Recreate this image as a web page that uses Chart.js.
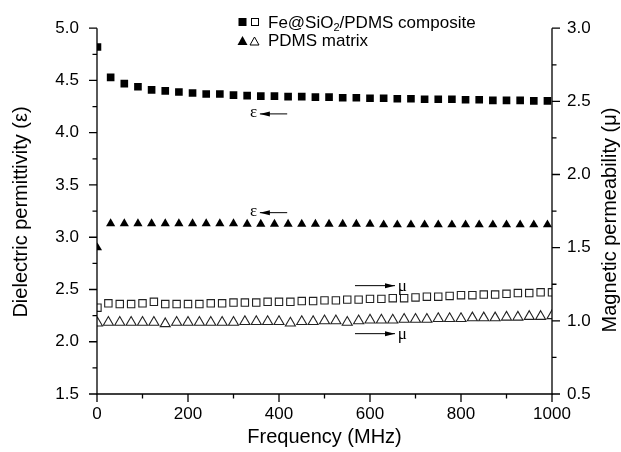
<!DOCTYPE html>
<html><head><meta charset="utf-8">
<script src="https://cdn.jsdelivr.net/npm/chart.js@4"></script>
<style>html,body{margin:0;padding:0;background:#fff}#wrap{width:621px;height:452px;position:relative}</style>
</head><body><div id="wrap"><canvas id="c" width="621" height="452"></canvas></div>
<script>
// ---- data ----
const freqFilled = [1,30,60,90,120,150,180,210,240,270,300,330,360,390,420,450,480,510,540,570,600,630,660,690,720,750,780,810,840,870,900,930,960,990];
const epsComposite = [4.82,4.53,4.47,4.44,4.41,4.40,4.39,4.38,4.37,4.37,4.36,4.355,4.35,4.35,4.345,4.345,4.34,4.34,4.335,4.335,4.33,4.33,4.325,4.325,4.32,4.32,4.32,4.315,4.315,4.31,4.31,4.31,4.305,4.305];
const epsMatrix = [2.90,3.13,3.13,3.13,3.13,3.13,3.13,3.13,3.13,3.13,3.13,3.125,3.125,3.125,3.125,3.125,3.125,3.125,3.125,3.125,3.125,3.12,3.12,3.12,3.12,3.12,3.12,3.12,3.12,3.12,3.12,3.12,3.12,3.12];
const freqHollow = [1,25,50,75,100,125,150,175,200,225,250,275,300,325,350,375,400,425,450,475,500,525,550,575,600,625,650,675,700,725,750,775,800,825,850,875,900,925,950,975,1000];
const muComposite = [1.09,1.12,1.115,1.115,1.12,1.13,1.115,1.115,1.115,1.115,1.12,1.12,1.125,1.125,1.125,1.13,1.13,1.13,1.135,1.135,1.14,1.14,1.145,1.145,1.15,1.15,1.155,1.155,1.16,1.165,1.165,1.17,1.175,1.175,1.18,1.18,1.185,1.19,1.19,1.195,1.195];
const muMatrix = [0.985,0.99,0.99,0.99,0.99,0.99,0.98,0.99,0.99,0.99,0.99,0.99,0.99,0.995,0.995,0.995,0.995,0.985,0.995,0.995,1.0,1.0,0.99,1.0,1.005,1.005,1.005,1.01,1.01,1.01,1.015,1.015,1.015,1.02,1.02,1.02,1.025,1.025,1.03,1.03,1.035];
const seriesNames = ['Fe@SiO2/PDMS composite','PDMS matrix'];
const xTitle = 'Frequency (MHz)';
const yTitle = 'Dielectric permittivity (\u03b5)';
const y2Title = 'Magnetic permeability (\u03bc)';

const FONT = 'Arial, "Liberation Sans", sans-serif';
const pts = (xs, ys) => xs.map((x, i) => ({x, y: ys[i]}));

const decor = {
  id: 'decor',
  afterDatasetsDraw(chart) {
    const {ctx, chartArea: a, scales: {x, y, y2}} = chart;
    ctx.save();
    ctx.strokeStyle = '#000'; ctx.fillStyle = '#000'; ctx.lineWidth = 1.3;
    ctx.beginPath();
    ctx.moveTo(a.left, a.top); ctx.lineTo(a.left, a.bottom); ctx.lineTo(a.right, a.bottom); ctx.lineTo(a.right, a.top);
    ctx.stroke();
    const MAJ = 8, MIN = 4.5;
    ctx.beginPath();
    const xt = x.ticks.map(t => t.value);
    xt.forEach((v, i) => {
      const p = x.getPixelForValue(v); ctx.moveTo(p, a.bottom); ctx.lineTo(p, a.bottom + MAJ);
      if (i < xt.length - 1) { const q = x.getPixelForValue((v + xt[i+1]) / 2); ctx.moveTo(q, a.bottom); ctx.lineTo(q, a.bottom + MIN); }
    });
    const yt = y.ticks.map(t => t.value);
    yt.forEach((v, i) => {
      const p = y.getPixelForValue(v); ctx.moveTo(a.left, p); ctx.lineTo(a.left - MAJ, p);
      if (i < yt.length - 1) { const q = y.getPixelForValue((v + yt[i+1]) / 2); ctx.moveTo(a.left, q); ctx.lineTo(a.left - MIN, q); }
    });
    const y2t = y2.ticks.map(t => t.value);
    y2t.forEach((v, i) => {
      const p = y2.getPixelForValue(v); ctx.moveTo(a.right, p); ctx.lineTo(a.right + MAJ, p);
      if (i < y2t.length - 1) { const q = y2.getPixelForValue((v + y2t[i+1]) / 2); ctx.moveTo(a.right, q); ctx.lineTo(a.right + MIN, q); }
    });
    ctx.stroke();

    // axis titles
    ctx.font = '20px ' + FONT;
    ctx.textAlign = 'center'; ctx.textBaseline = 'middle';
    ctx.fillText(xTitle, (a.left + a.right) / 2, 437);
    ctx.save(); ctx.translate(21, 212); ctx.rotate(-Math.PI / 2); ctx.fillText(yTitle, 0, 0); ctx.restore();
    ctx.save(); ctx.translate(610, 220); ctx.rotate(-Math.PI / 2); ctx.fillText(y2Title, 0, 0); ctx.restore();

    // annotations
    const arrow = (x1, x2, yy) => {
      ctx.lineWidth = 1; ctx.beginPath(); ctx.moveTo(x1, yy); ctx.lineTo(x2, yy); ctx.stroke();
      const d = Math.sign(x2 - x1);
      ctx.beginPath(); ctx.moveTo(x2, yy); ctx.lineTo(x2 - d * 10, yy - 2.5); ctx.lineTo(x2 - d * 10, yy + 2.5); ctx.closePath(); ctx.fill();
    };
    ctx.font = '17px "Liberation Serif", "Times New Roman", serif';
    ctx.textAlign = 'center';
    [[4.192, 4.18], [3.242, 3.235]].forEach(([tv, av]) => {
      ctx.fillText('\u03b5', x.getPixelForValue(344), y.getPixelForValue(tv));
      arrow(x.getPixelForValue(418), x.getPixelForValue(358), y.getPixelForValue(av));
    });
    ctx.textAlign = 'left';
    [1.2405, 0.9124].forEach(v => {
      const yy = y2.getPixelForValue(v);
      arrow(x.getPixelForValue(567), x.getPixelForValue(655), yy);
      ctx.fillText('\u03bc', x.getPixelForValue(661), yy + 1);
    });

    // legend
    ctx.lineWidth = 1;
    ctx.fillRect(238.5, 18, 8, 8);
    ctx.strokeRect(251.5, 18.5, 7, 7);
    ctx.beginPath(); ctx.moveTo(242.5, 36); ctx.lineTo(247.5, 45); ctx.lineTo(237.5, 45); ctx.closePath(); ctx.fill();
    ctx.beginPath(); ctx.moveTo(254.5, 37); ctx.lineTo(259, 45); ctx.lineTo(250, 45); ctx.closePath(); ctx.stroke();
    ctx.font = '17px ' + FONT; ctx.textAlign = 'left'; ctx.textBaseline = 'alphabetic';
    let tx = 268;
    const p1 = 'Fe@SiO';
    ctx.fillText(p1, tx, 28); tx += ctx.measureText(p1).width;
    ctx.font = '11px ' + FONT; ctx.fillText('2', tx, 31); tx += ctx.measureText('2').width;
    ctx.font = '17px ' + FONT; ctx.fillText('/PDMS composite', tx, 28);
    ctx.fillText(seriesNames[1], 268, 46);
    ctx.restore();
  }
};

new Chart(document.getElementById('c'), {
  type: 'scatter',
  data: {
    datasets: [
      {label: seriesNames[0] + ' \u03b5', data: pts(freqFilled, epsComposite), yAxisID: 'y', pointStyle: 'rect', pointRadius: 5.4, backgroundColor: '#000', borderColor: '#000', borderWidth: 0, clip: 0},
      {label: seriesNames[1] + ' \u03b5', data: pts(freqFilled, epsMatrix), yAxisID: 'y', pointStyle: 'triangle', pointRadius: 5.3, backgroundColor: '#000', borderColor: '#000', borderWidth: 0, clip: 0},
      {label: seriesNames[0] + ' \u03bc', data: pts(freqHollow, muComposite), yAxisID: 'y2', pointStyle: 'rect', pointRadius: 5.2, backgroundColor: '#fff', borderColor: '#222', borderWidth: 1.1, clip: 0},
      {label: seriesNames[1] + ' \u03bc', data: pts(freqHollow, muMatrix), yAxisID: 'y2', pointStyle: 'triangle', pointRadius: 5.8, backgroundColor: '#fff', borderColor: '#222', borderWidth: 1.1, clip: 0}
    ]
  },
  options: {
    responsive: false, animation: false, devicePixelRatio: 1,
    layout: {padding: {top: 26, left: 0, right: 0, bottom: 0}},
    plugins: {legend: {display: false}, tooltip: {enabled: false}},
    scales: {
      x: {type: 'linear', min: 0, max: 1000, position: 'bottom',
          grid: {display: false, drawTicks: false, tickLength: 0}, border: {display: false},
          ticks: {stepSize: 200, color: '#000', font: {family: FONT, size: 17}, padding: 10, maxRotation: 0, callback: v => String(v)},
          afterFit: s => { s.height = 58; }},
      y: {type: 'linear', min: 1.5, max: 5.0, position: 'left',
          grid: {display: false, drawTicks: false, tickLength: 0}, border: {display: false},
          ticks: {stepSize: 0.5, color: '#000', font: {family: FONT, size: 17}, padding: 18, callback: v => v.toFixed(1)},
          afterFit: s => { s.width = 97; }},
      y2: {type: 'linear', min: 0.5, max: 3.0, position: 'right',
          grid: {display: false, drawTicks: false, tickLength: 0}, border: {display: false},
          ticks: {stepSize: 0.5, color: '#000', font: {family: FONT, size: 17}, padding: 15, callback: v => v.toFixed(1)},
          afterFit: s => { s.width = 69; }}
    }
  },
  plugins: [decor]
});
</script></body></html>
